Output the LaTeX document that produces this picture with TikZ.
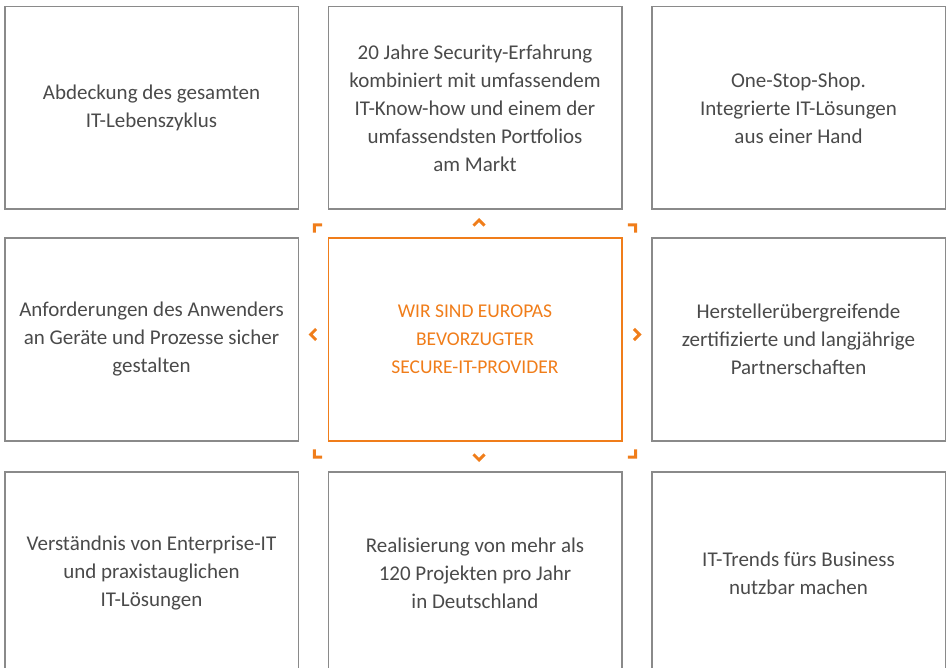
\documentclass[tikz,border=0pt]{standalone}
\usepackage{fontspec}
\setmainfont{Carlito}
\usetikzlibrary{positioning,calc}
\definecolor{brandorange}{HTML}{F07D1A}
\definecolor{boxgray}{HTML}{8A8A8A}
\definecolor{textgray}{HTML}{4A4A4A}

\begin{document}
\begin{tikzpicture}[
x=1pt, y=-1pt,
field/.style={
  draw=boxgray,
  line width=1.5pt,
  outer sep=0pt,
  minimum width=293.5pt,
  minimum height=202.5pt,
  align=center,
  text=textgray,
  font=\fontsize{21}{28}\selectfont
},
core/.style={
  field,
  draw=brandorange,
  text=brandorange,
  font=\fontsize{19.5}{28}\selectfont
},
tip/.style={
  draw=brandorange,
  line width=2.9pt
},
chev/.pic={
  \draw[tip] (-5.5,2.8) -- (0,-2.7) -- (5.5,2.8);
},
node distance=30pt and 29pt
]
\path[use as bounding box, clip] (0,0) rectangle (947,668);

\node[core] (c) at (475,339.5)
  {WIR SIND EUROPAS\\BEVORZUGTER\\SECURE-IT-PROVIDER};
\node[field,above=29pt of c] (t)
  {20 Jahre Security-Erfahrung\\kombiniert mit umfassendem\\IT-Know-how und einem der\\umfassendsten Portfolios\\am Markt};
\node[field,left=30pt of c] (l)
  {Anforderungen des Anwenders\\an Geräte und Prozesse sicher\\gestalten};
\node[field,right=30pt of c] (r)
  {Herstellerübergreifende\\zertifizierte und langjährige\\Partnerschaften};
\node[field,below=31pt of c] (b)
  {Realisierung von mehr als\\120 Projekten pro Jahr\\in Deutschland};
\node[field,above=29pt of l] (tl)
  {Abdeckung des gesamten\\IT-Lebenszyklus};
\node[field,above=29pt of r] (tr)
  {One-Stop-Shop.\\Integrierte IT-Lösungen\\aus einer Hand};
\node[field,below=31pt of l] (bl)
  {Verständnis von Enterprise-IT\\und praxistauglichen\\IT-Lösungen};
\node[field,below=31pt of r] (br)
  {IT-Trends fürs Business\\nutzbar machen};

% Pfeilspitzen rund um die Mitte
\coordinate (pn)  at ($(t.south)!0.5!(c.north)+(4,-1)$);
\coordinate (ps)  at ($(b.north)!0.5!(c.south)+(4,1)$);
\coordinate (pw)  at ($(l.east)!0.5!(c.west)+(0,-5)$);
\coordinate (pe)  at ($(r.west)!0.5!(c.east)+(0,-5)$);
\coordinate (pnw) at ($(tl.south east)!0.5!(c.north west)+(3,3)$);
\coordinate (pne) at ($(tr.south west)!0.5!(c.north east)+(-3,3)$);
\coordinate (psw) at ($(bl.north east)!0.5!(c.south west)+(3,-1)$);
\coordinate (pse) at ($(br.north west)!0.5!(c.south east)+(-3,-1)$);
\foreach \p/\a in {pn/0,pnw/45,pw/90,psw/135,ps/180,pse/-135,pe/-90,pne/-45}
  \pic[rotate=\a] at (\p) {chev};
\end{tikzpicture}
\end{document}
